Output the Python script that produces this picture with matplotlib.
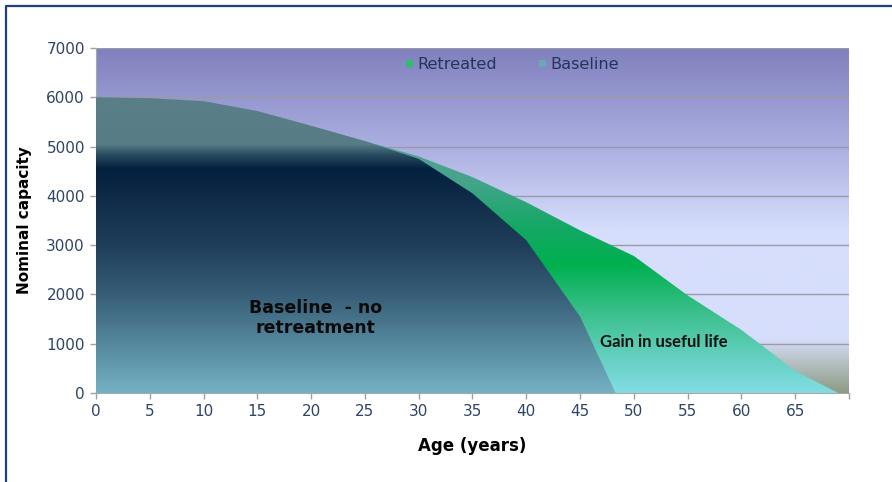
import numpy as np
import matplotlib
matplotlib.use("Agg")
import matplotlib.pyplot as plt
from matplotlib.colors import LinearSegmentedColormap
from matplotlib.patches import Patch
from matplotlib.lines import Line2D

# ---------------------------- data ----------------------------
age_retreated = [0, 5, 10, 15, 20, 25, 30, 35, 40, 45, 50, 55, 60, 65, 69]
cap_retreated = [6000, 5980, 5920, 5720, 5420, 5110, 4800, 4380, 3870, 3300, 2780, 1980, 1280, 450, 0]

age_baseline = [0, 5, 10, 15, 20, 25, 30, 35, 40, 45, 48.3]
cap_baseline = [6000, 5980, 5920, 5720, 5420, 5110, 4750, 4050, 3100, 1550, 0]

x_ticks = list(range(0, 70, 5))
y_ticks = list(range(0, 8000, 1000))

XMAX, YMAX = 70, 7000

# gradient stops as (capacity, colour)
bg_stops = [(0, '#8c9b84'), (700, '#bcc6cc'), (1100, '#d6defc'),
            (3300, '#d6defc'), (5000, '#abafe0'), (7000, '#8080be')]
base_stops = [(0, '#74b0c3'), (1000, '#55889d'), (2000, '#375d77'), (3000, '#1f3e59'),
              (4000, '#0f2a47'), (4550, '#03203e'), (4850, '#2a4d62'),
              (5050, '#587c86'), (6000, '#5a7f89')]
retr_stops = [(0, '#82dde2'), (600, '#6ad2c6'), (1600, '#3cc08e'), (2600, '#00b04e'),
              (3400, '#15a866'), (4300, '#45a48c'), (6000, '#62a0a8')]


def make_cmap(stops):
    if stops[-1][0] < YMAX:
        stops = stops + [(YMAX, stops[-1][1])]
    return LinearSegmentedColormap.from_list(
        '', [(v / YMAX, c) for v, c in stops])


def gradient_area(ax, x, y, stops, zorder):
    poly, = ax.fill(np.r_[x, x[-1], x[0]], np.r_[y, 0, 0],
                    facecolor='none', edgecolor='none', zorder=zorder)
    grad = np.linspace(1, 0, 512).reshape(-1, 1)
    im = ax.imshow(grad, cmap=make_cmap(stops), vmin=0, vmax=1,
                   extent=[0, XMAX, 0, YMAX], aspect='auto',
                   origin='upper', zorder=zorder, interpolation='bilinear')
    im.set_clip_path(poly)
    return im


fig = plt.figure(figsize=(8.92, 4.82), dpi=100)
ax = fig.add_axes([96 / 892, 1 - 393 / 482, (849 - 96) / 892, (393 - 48) / 482])

# plot area background
grad = np.linspace(1, 0, 512).reshape(-1, 1)
ax.imshow(grad, cmap=make_cmap(bg_stops), vmin=0, vmax=1,
          extent=[0, XMAX, 0, YMAX], aspect='auto', origin='upper',
          zorder=0, interpolation='bilinear')

for yv in y_ticks[1:]:
    ax.axhline(yv, color='#9a9aa8', lw=1.0, zorder=1)

gradient_area(ax, age_retreated, cap_retreated, retr_stops, 2)
gradient_area(ax, age_baseline, cap_baseline, base_stops, 3)

ax.set_xlim(0, XMAX)
ax.set_ylim(0, YMAX)
ax.set_xticks(x_ticks + [70])
ax.set_xticklabels([str(t) for t in x_ticks] + [''])
ax.set_yticks(y_ticks)
ax.tick_params(colors='#a0a0a0', length=4, width=1, labelcolor='#2f4466',
               labelsize=11, pad=4)
for side in ['top', 'right']:
    ax.spines[side].set_visible(False)
for side in ['left', 'bottom']:
    ax.spines[side].set_color('#a8a8a8')

ax.set_xlabel('Age (years)', fontsize=12, fontweight='bold', labelpad=13)
ax.set_ylabel('Nominal capacity', fontsize=11, fontweight='bold', labelpad=10)

ax.text(20.4, 1520, 'Baseline  - no\nretreatment', ha='center', va='center',
        fontsize=12.5, fontweight='bold', color='#0a0a0a', linespacing=1.1,
        zorder=5)
ax.text(52.8, 1040, 'Gain in useful life', ha='center', va='center',
        fontsize=12, fontweight='bold', family=['Lato', 'DejaVu Sans'],
        color='#111111', zorder=5)

handles = [Patch(facecolor='#2dbe6c', edgecolor='none', label='Retreated'),
           Patch(facecolor='#6aa8b0', edgecolor='none', label='Baseline')]
leg = ax.legend(handles=handles, loc='center', bbox_to_anchor=(0.553, 0.951),
                ncol=2, frameon=False, fontsize=11.6, handlelength=0.45,
                handleheight=0.3, handletextpad=0.25, columnspacing=2.6,
                borderpad=0, borderaxespad=0)
for t in leg.get_texts():
    t.set_color('#23365a')

# chart frame
fig.add_artist(Line2D([5.5 / 892, 5.5 / 892, 1.0], [0.0, 1 - 5.5 / 482, 1 - 5.5 / 482],
                      transform=fig.transFigure, color='#1f3f7a', lw=1.6))

plt.savefig('out.png', dpi=100)
